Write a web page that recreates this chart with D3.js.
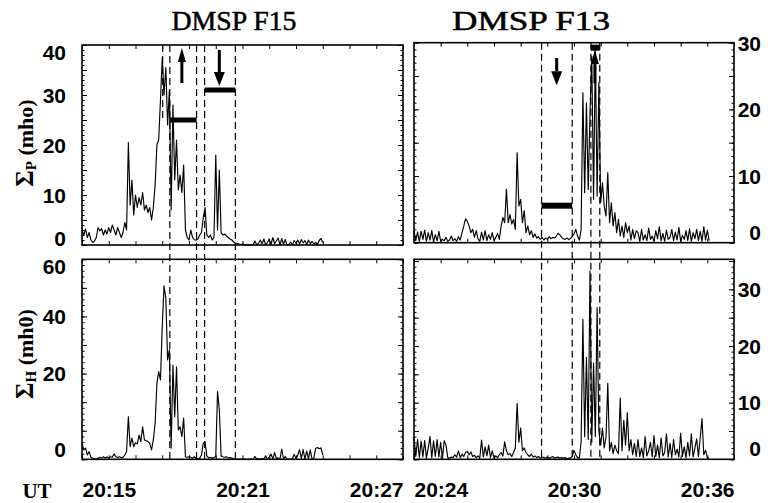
<!DOCTYPE html>
<html lang="en">
<head>
<meta charset="UTF-8" />
<title>DMSP F15 / F13 conductances</title>
<script src="https://d3js.org/d3.v7.min.js"></script>
<style>
  body { margin: 0; background: #fff; }
  svg { display: block; font-family: "Liberation Serif", "Times New Roman", serif; }
  .domain { display: none; }
  .tick line { stroke: #000; stroke-width: 1; }
  .tick text { font-size: 21px; font-weight: bold; fill: #000; }
  .frame { fill: none; stroke: #000; stroke-width: 1.6; }
  .trace { fill: none; stroke: #000; stroke-width: 1.15; stroke-linejoin: round; }
  .cut { stroke: #000; stroke-width: 1.2; stroke-dasharray: 7 4; }
  .bar { stroke: #000; stroke-linecap: butt; }
  .title { font-size: 27px; stroke: #000; stroke-width: 0.5; }
  .ylab { font-size: 22px; font-weight: bold; }
</style>
</head>
<body>
<div id="chart"></div>
<script>
  // sampling: one value every 4 s, starting at the left edge of each column
  const sampleSec = 4;
  const f15Start = "20:15:00", f13Start = "20:24:00";
  const f15Window = ["20:15:00", "20:27:00"], f13Window = ["20:24:00", "20:36:00"];
  const f15TimeLabels = ["20:15", "20:21", "20:27"];
  const f13TimeLabels = ["20:24", "20:30", "20:36"];

  // Sigma_P (mho), F15
  const f15SigmaP = [
    3.0,2.0,3.2,1.5,2.5,1.0,0.5,0.8,1.5,3.5,
    2.8,3.3,2.0,3.0,2.2,3.5,2.5,4.0,3.0,2.0,
    3.5,2.5,1.5,2.5,4.5,3.0,20.5,8.0,13.0,6.0,
    10.0,7.5,9.5,8.0,10.5,7.0,8.0,6.5,7.5,5.0,
    7.5,12.0,20.0,21.0,29.0,37.5,30.0,35.5,24.0,31.0,
    7.0,28.0,13.0,21.0,11.0,14.0,10.5,16.0,3.0,1.5,
    1.0,3.0,1.5,1.0,1.0,1.2,2.0,2.5,5.5,7.5,
    2.0,1.5,2.0,1.0,1.5,18.0,3.0,15.0,2.5,2.0,
    2.2,1.8,1.5,1.2,1.0,0.6,0.4,0.3,0.2,0.1,
    0.2,0.1,0.0,0.1,0.0,0.0,0.1,0.8,0.0,0.3,
    1.0,0.2,1.2,0.0,0.5,1.2,0.1,1.5,0.3,0.8,
    1.4,0.0,1.3,0.2,1.1,0.0,0.1,0.6,0.0,0.9,
    0.3,1.0,0.2,1.1,0.4,0.9,0.1,1.0,0.3,0.7,
    0.2,0.5,0.1,0.9,1.3,0.5
  ];

  // Sigma_H, F15 (read against the printed axis, which runs from -10 to 60)
  const f15SigmaH = [
    -4.4,-6.7,-6.1,-8.5,-7.3,-9.3,-9.6,-9.9,-9.9,-9.6,
    -9.3,-9.6,-9.1,-9.5,-9.2,-9.5,-9.1,-9.3,-8.1,-9.1,
    -9.4,-9.1,-9.5,-9.3,-8.5,-7.3,4.9,-5.6,-2.6,-5.6,
    -4.2,-4.6,-1.5,-3.8,1.4,-3.2,-3.5,-3.8,-4.4,-6.7,
    -3.2,2.6,16.6,20.7,17.8,36.4,50.7,46.4,24.8,28.3,
    -6.1,23.0,4.9,22.4,0.3,1.4,-2.1,4.4,-9.1,-9.3,
    -9.1,-9.3,-9.6,-9.1,-9.8,-9.8,-9.6,-8.5,-4.4,-3.8,
    -8.8,-9.5,-9.3,-9.6,-9.4,-9.1,13.7,7.3,-8.8,-9.1,
    -9.3,-9.1,-9.5,-9.4,-9.6,-9.8,-9.9,-9.9,-10,-9.9,
    -10,-9.9,-10,-10,-9.9,-10,-9.9,-9.0,-10,-9.8,
    -10,-9.7,-9.9,-8.8,-10,-9.2,-8.2,-9.9,-7.6,-9.8,
    -9.5,-10,-6.4,-9.9,-9.0,-10,-9.9,-10,-9.7,-8.2,
    -9.9,-8.5,-6.6,-9.8,-6.6,-9.9,-7.1,-9.8,-6.7,-9.9,
    -9.6,-6.2,-5.9,-6.3,-6.0,-8.5
  ];

  // Sigma_P (mho), F13
  const f13SigmaP = [
    1.8,0.3,1.6,0.2,1.7,0.5,1.9,0.2,1.5,0.4,
    1.8,0.1,1.2,0.3,1.7,0.2,0.5,0.3,0.8,0.2,
    0.4,1.0,0.3,0.6,0.2,0.9,0.4,1.5,
    2.5,3.6,3.2,2.5,1.5,2.0,0.8,1.8,0.6,0.2,
    1.6,0.4,1.8,0.3,1.2,0.5,1.5,0.3,0.8,1.4,
    0.5,2.5,3.8,3.0,8.0,3.0,4.2,2.8,3.5,2.0,
    13.5,5.5,6.5,3.0,4.8,1.5,2.5,1.2,1.8,0.8,
    1.3,0.7,0.9,0.5,0.8,0.4,0.7,0.5,0.9,0.6,
    0.8,0.7,1.0,1.4,1.2,0.8,0.6,0.5,0.7,0.5,
    0.6,0.9,1.3,2.0,1.0,0.4,2.0,
    22.5,7.5,21.0,8.0,19.5,28.0,6.5,29.0,7.0,24.0,
    6.0,9.0,5.5,4.0,10.5,3.0,6.0,2.5,4.5,1.5,
    3.5,1.0,2.5,0.8,3.0,1.5,2.5,0.4,2.0,0.6,1.8,
    1.5,0.2,2.0,0.4,1.2,0.3,2.2,0.5,1.0,0.2,
    1.8,0.6,2.4,0.3,1.4,0.2,1.9,0.5,0.8,2.0,
    0.3,1.6,0.4,2.3,0.2,1.1,0.5,1.8,0.3,2.1,
    0.2,1.5,0.6,2.0,0.3,1.7,0.2,2.4,0.4,1.9,0.3
  ];

  // Sigma_H, F13
  const f13SigmaH = [
    4.0,0.5,3.5,0.3,3.2,0.4,3.3,0.2,2.0,4.0,
    0.3,3.2,0.5,3.5,0.4,3.0,0.2,3.3,2.5,0.3,
    0.2,0.4,0.3,0.8,0.4,1.5,0.3,0.9,0.5,1.2,
    1.4,0.8,1.3,0.5,0.7,0.3,0.6,0.2,
    3.4,0.4,2.2,0.6,2.5,0.3,1.5,0.2,0.6,0.3,
    0.8,1.2,0.6,3.1,1.5,0.8,1.0,0.5,1.2,2.0,
    9.9,3.0,5.5,1.5,2.0,1.2,0.8,0.5,0.9,0.4,
    0.6,0.3,0.5,0.2,0.4,0.3,0.2,0.4,0.2,0.3,
    0.5,0.2,0.3,0.4,0.2,0.3,0.2,0.3,0.1,0.2,
    0.2,0.5,1.6,0.8,0.3,0.2,3.0,
    24.7,4.0,18.0,3.5,33.2,3.0,17.0,4.0,26.8,5.0,
    2.5,5.5,2.0,4.0,13.4,1.5,3.0,1.0,2.5,1.5,
    1.0,10.8,1.5,6.9,2.5,8.2,1.5,3.5,0.8,2.8,0.5,
    3.5,0.5,2.0,0.3,4.0,0.6,1.5,3.0,0.4,4.2,
    0.5,2.5,0.3,3.8,0.6,1.2,4.5,0.4,2.8,0.3,
    3.5,0.8,1.8,0.4,4.6,0.5,2.2,0.3,3.0,0.6,
    4.5,0.4,2.0,3.6,0.5,3.8,7.2,0.8,1.6,0.3,0.2
  ];

  // y tick values and their printed text
  const f15PTicks = [0, 10, 20, 30, 40], f15PTickText = ["0", "10", "20", "30", "40"];
  const f15HTicks = [-10, 20, 40, 60], f15HTickText = ["0", "20", "40", "60"];
  const f13PTicks = [0, 10, 20, 30], f13PTickText = ["0", "10", "20", "30"];
  const f13HTicks = [0, 10, 20, 30], f13HTickText = ["0", "10", "20", "30"];

  // boundaries (dashed), bars and arrows
  const f15Cuts = ["20:18:17", "20:19:17", "20:19:35", "20:20:44"];
  const f15ShortCut = "20:18:01";
  const f13Cuts = ["20:28:47", "20:29:56", "20:30:38", "20:30:58"];
  const f15Bars = [["20:18:17", "20:19:17", 25], ["20:19:35", "20:20:44", 31]];
  const f13Bars = [["20:28:47", "20:29:56", 5.55], ["20:30:38", "20:30:58", 29.25]];
  const f15Arrows = [["20:18:44", 32.4, 39.4], ["20:20:08", 39.0, 31.8]];
  const f13Arrows = [["20:29:21", 27.7, 23.6], ["20:30:47", 23.9, 28.9]];

  const W = 771, H = 503;
  const parseT = d3.timeParse("%H:%M:%S");
  const parseHM = d3.timeParse("%H:%M");

  const svg = d3.select("#chart").append("svg").attr("width", W).attr("height", H);

  const xF15 = d3.scaleTime().domain(f15Window.map(parseT)).range([82, 403]);
  const xF13 = d3.scaleTime().domain(f13Window.map(parseT)).range([414, 734]);

  const panels = {
    f15P: { x: xF15, y: d3.scaleLinear().domain([0, 40]).range([245, 45]), values: f15SigmaP, start: f15Start,
            ticks: f15PTicks, text: f15PTickText, major: 5, minor: 1, side: "left", nudgeTop: 7.7, nudgeBottom: -6 },
    f15H: { x: xF15, y: d3.scaleLinear().domain([-10, 60]).range([459.3, 259.3]), values: f15SigmaH, start: f15Start,
            ticks: f15HTicks, text: f15HTickText, major: 10, minor: 2, side: "left", nudgeTop: 7.4, nudgeBottom: -9.3 },
    f13P: { x: xF13, y: d3.scaleLinear().domain([0, 30]).range([242.7, 42.7]), values: f13SigmaP, start: f13Start,
            ticks: f13PTicks, text: f13PTickText, major: 5, minor: 1, side: "right", nudgeTop: 1.3, nudgeBottom: -9.7 },
    f13H: { x: xF13, y: d3.scaleLinear().domain([0, 35.3]).range([459.3, 259.3]), values: f13SigmaH, start: f13Start,
            ticks: f13HTicks, text: f13HTickText, major: 5, minor: 1, side: "right", nudgeTop: 0.5, nudgeBottom: -10.3 }
  };

  function drawPanel(p) {
    const g = svg.append("g");
    const [x0, x1] = p.x.range();
    const [yb, yt] = p.y.range();
    const [v0, v1] = p.y.domain();

    // minute ticks top and bottom
    const everyMin = d3.timeMinute.every(1);
    g.append("g").attr("transform", `translate(0,${yb})`)
      .call(d3.axisBottom(p.x).ticks(everyMin).tickSize(-4).tickFormat(""));
    g.append("g").attr("transform", `translate(0,${yt})`)
      .call(d3.axisTop(p.x).ticks(everyMin).tickSize(-4).tickFormat(""));

    // y ticks on both sides, pointing inwards
    const minors = d3.range(v0, v1 + 1e-6, p.minor);
    const majors = d3.range(v0, v1 + 1e-6, p.major);
    [[d3.axisLeft, x0], [d3.axisRight, x1]].forEach(([axis, xx]) => {
      g.append("g").attr("transform", `translate(${xx},0)`)
        .call(axis(p.y).tickValues(minors).tickSize(-2.5).tickFormat(""));
      g.append("g").attr("transform", `translate(${xx},0)`)
        .call(axis(p.y).tickValues(majors).tickSize(-5).tickFormat(""));
    });

    // labelled side
    const top = d3.max(p.ticks), bottom = d3.min(p.ticks);
    const lab = g.append("g")
      .attr("transform", `translate(${p.side === "left" ? x0 : x1},0)`)
      .call((p.side === "left" ? d3.axisLeft(p.y) : d3.axisRight(p.y))
        .tickValues(p.ticks).tickSize(0).tickPadding(16)
        .tickFormat((d, i) => p.text[i]));
    lab.selectAll("text")
      .attr("dy", d => 6.7 + (d === top ? p.nudgeTop : d === bottom ? p.nudgeBottom : 0.5));
    if (p.side === "right") lab.selectAll("text").attr("x", 27).attr("text-anchor", "end");

    // trace
    const t0 = parseT(p.start);
    const line = d3.line()
      .x((d, i) => p.x(new Date(t0.getTime() + i * sampleSec * 1000)))
      .y(d => p.y(d));
    g.append("path").datum(p.values).attr("class", "trace").attr("d", line);

    g.append("rect").attr("class", "frame")
      .attr("x", x0).attr("y", yt).attr("width", x1 - x0).attr("height", yb - yt);
    return g;
  }

  Object.values(panels).forEach(drawPanel);

  // dashed boundaries through both panels of a column
  function drawCuts(cuts, x, topPanel, botPanel) {
    svg.append("g").selectAll("line").data(cuts).join("line")
      .attr("class", "cut")
      .attr("x1", d => x(parseT(d))).attr("x2", d => x(parseT(d)))
      .attr("y1", topPanel.y.range()[1]).attr("y2", botPanel.y.range()[0]);
  }
  drawCuts(f15Cuts, xF15, panels.f15P, panels.f15H);
  drawCuts(f13Cuts, xF13, panels.f13P, panels.f13H);
  svg.append("line").attr("class", "cut")
    .attr("x1", xF15(parseT(f15ShortCut))).attr("x2", xF15(parseT(f15ShortCut)))
    .attr("y1", panels.f15P.y(40)).attr("y2", panels.f15P.y(25));

  function drawBars(bars, p, width) {
    svg.append("g").selectAll("line").data(bars).join("line")
      .attr("class", "bar").attr("stroke-width", width)
      .attr("x1", d => p.x(parseT(d[0]))).attr("x2", d => p.x(parseT(d[1])))
      .attr("y1", d => p.y(d[2])).attr("y2", d => p.y(d[2]));
  }
  drawBars(f15Bars, panels.f15P, 5);
  drawBars(f13Bars, panels.f13P, 6);

  function drawArrows(arrows, p) {
    arrows.forEach(([t, from, to]) => {
      const x = p.x(parseT(t)), y1 = p.y(from), y2 = p.y(to);
      const dir = Math.sign(y2 - y1);
      const headLen = 14, headW = dir > 0 ? 11 : 8;
      const yBase = y2 - dir * headLen;
      svg.append("line").attr("x1", x).attr("x2", x).attr("y1", y1).attr("y2", yBase)
        .attr("stroke", "#000").attr("stroke-width", 3);
      svg.append("path").attr("fill", "#000")
        .attr("d", `M${x - headW / 2},${yBase}L${x + headW / 2},${yBase}L${x},${y2}Z`);
    });
  }
  drawArrows(f15Arrows, panels.f15P);
  drawArrows(f13Arrows, panels.f13P);

  // time labels under the bottom panels
  function drawTimeLabels(labels, x, yb) {
    const ax = svg.append("g").attr("transform", `translate(0,${yb})`)
      .call(d3.axisBottom(x).tickValues(labels.map(parseHM).map(d => {
        const r = new Date(x.domain()[0]); r.setHours(d.getHours(), d.getMinutes(), 0, 0); return r;
      })).tickSize(0).tickPadding(23).tickFormat(d3.timeFormat("%H:%M")));
    ax.selectAll("text").attr("text-anchor", (d, i) => i === 0 ? "start" : i === labels.length - 1 ? "end" : "middle");
  }
  drawTimeLabels(f15TimeLabels, xF15, 459.3);
  drawTimeLabels(f13TimeLabels, xF13, 459.3);

  svg.append("text").attr("x", 37).attr("y", 497.5).attr("text-anchor", "middle")
    .attr("class", "ylab").style("font-size", "21px").text("UT");

  // titles
  svg.append("text").attr("class", "title").attr("x", 234).attr("y", 30).attr("text-anchor", "middle")
    .attr("textLength", 125).attr("lengthAdjust", "spacingAndGlyphs").text("DMSP F15");
  svg.append("text").attr("class", "title").attr("x", 531).attr("y", 30).attr("text-anchor", "middle")
    .attr("textLength", 158).attr("lengthAdjust", "spacingAndGlyphs").text("DMSP F13");

  // y titles
  function yTitle(cx, cy, sub, unit) {
    const t = svg.append("text").attr("class", "ylab")
      .attr("transform", `translate(${cx},${cy}) rotate(-90)`).attr("text-anchor", "middle");
    t.append("tspan").style("font-size", "25px").text("\u03A3");
    t.append("tspan").style("font-size", "15px").attr("dy", 3).text(sub);
    t.append("tspan").attr("dy", -3).text(" " + unit);
  }
  yTitle(33, 143, "P", "(mho)");
  yTitle(33, 354, "H", "(mh0)");
</script>
</body>
</html>
